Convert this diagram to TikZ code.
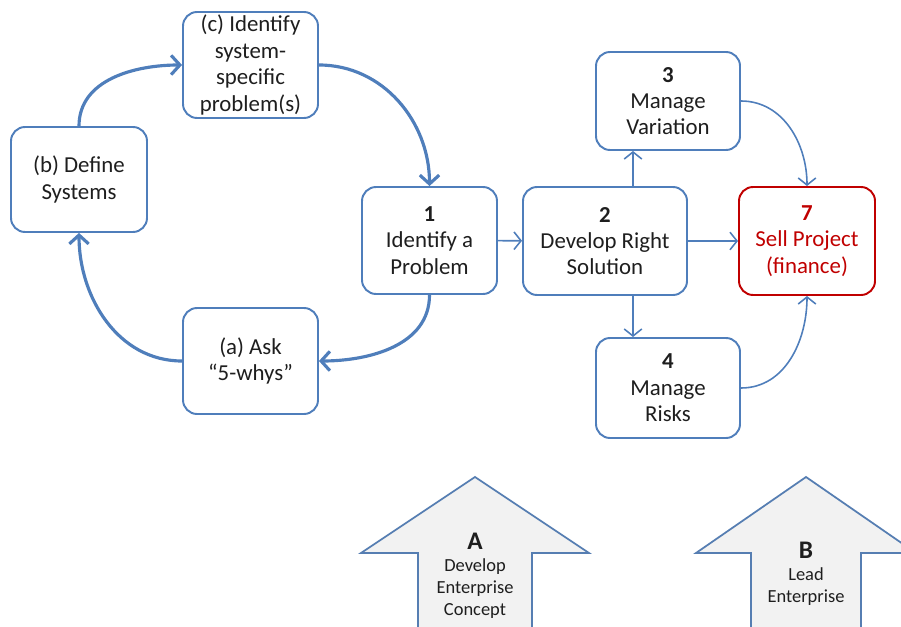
\documentclass[tikz,border=0pt]{standalone}
\usepackage{fontspec}
\setmainfont{Carlito}
\usetikzlibrary{arrows.meta}
\usetikzlibrary{positioning}
\usetikzlibrary{calc}

\definecolor{boxblue}{HTML}{4F7EBB}
\definecolor{sellred}{HTML}{C00000}
\definecolor{arrowfill}{HTML}{F2F2F2}
\definecolor{textgray}{HTML}{1E1E1E}

\tikzset{
  box/.style={draw=boxblue, line width=1.1pt, rounded corners=8pt, align=center,
    minimum width=2.7cm, minimum height=2.12cm, inner sep=1pt, text=textgray,
    font=\fontsize{13}{15}\selectfont},
  redbox/.style={box, draw=sellred, text=sellred},
  loop/.style={draw=boxblue, line width=1.8pt, -{Straight Barb[length=5pt,width=11pt]}},
  link/.style={draw=boxblue, line width=0.9pt, -{Straight Barb[length=4pt,width=10pt]}},
  bigarrow/.style={draw=boxblue!85!gray, line width=1pt, fill=arrowfill},
  arrowtext/.style={align=center, text=textgray, font=\fontsize{10.5}{12.5}\selectfont},
}

\begin{document}
\begin{tikzpicture}
\useasboundingbox (0,0) rectangle (18.02,12.52);

%cycle of boxes
\node[box] (cbox) at (5.01,11.22) {(c) Identify\\system-\\specific\\problem(s)};
\node[box, minimum width=2.72cm, minimum height=2.1cm] (bbox) at (1.58,8.93) {(b) Define\\Systems};
\node[box] (abox) at (5.01,5.30) {(a) Ask\\``5-whys''};
\node[box, minimum height=2.14cm] (box1) at (8.59,7.71) {\textbf{1}\\Identify a\\Problem};

%right hand boxes
\node[box, minimum width=3.28cm, minimum height=2.16cm] (box2) at (12.10,7.70) {\textbf{2}\\Develop Right\\Solution};
\node[box, minimum width=2.88cm, minimum height=1.96cm] (box3) at (13.36,10.50) {\textbf{3}\\Manage\\Variation};
\node[box, minimum width=2.88cm, minimum height=2.0cm] (box4) at (13.36,4.76) {\textbf{4}\\Manage\\Risks};
\node[redbox, minimum width=2.72cm, minimum height=2.16cm] (box7) at (16.14,7.70) {\textbf{7}\\Sell Project\\(finance)};

%cycle arrows
\draw[loop] (cbox.east) to[out=0, in=90] (box1.north);
\draw[loop] (box1.south) to[out=-90, in=0] (abox.east);
\draw[loop] (abox.west) to[out=180, in=-90] (bbox.south);
\draw[loop] (bbox.north) to[out=90, in=180] (cbox.west);

%links
\coordinate (split) at (12.66,7.70);
\draw[link] (box1) -- (box2);
\draw[link] (box2) -- (box7);
\draw[link] (box2.north -| split) -- (box3.south -| split);
\draw[link] (box2.south -| split) -- (box4.north -| split);
\draw[link] (box3.east) to[out=0, in=90] (box7.north);
\draw[link] (box4.east) to[out=0, in=-90] (box7.south);

%big arrows
\draw[bigarrow] (8.36,-0.2) -- (8.36,1.46) -- (7.22,1.46) -- (9.5,2.98) -- (11.78,1.46) -- (10.64,1.46) -- (10.64,-0.2);
\node[arrowtext] (conceptA) at (9.5,1.0) {\textbf{\Large A}\\Develop\\Enterprise\\Concept};

\draw[bigarrow] (15.02,-0.2) -- (15.02,1.46) -- (13.92,1.46) -- (16.12,2.98) -- (18.32,1.46) -- (17.22,1.46) -- (17.22,-0.2);
\node[arrowtext] (leadB) at (16.12,1.04) {\textbf{\Large B}\\Lead\\Enterprise};

\end{tikzpicture}
\end{document}
